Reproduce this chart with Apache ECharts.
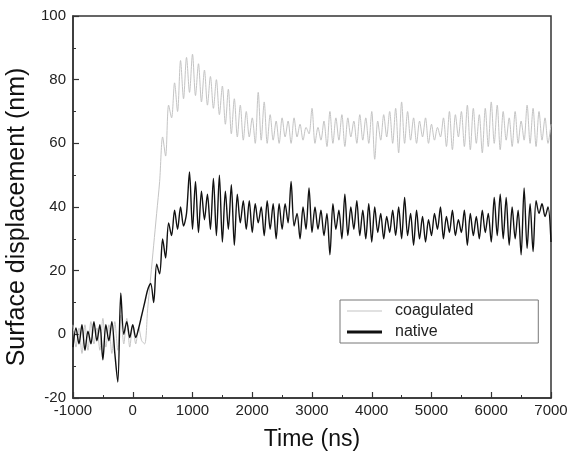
<!DOCTYPE html>
<html>
<head>
<meta charset="utf-8">
<script src="https://cdn.jsdelivr.net/npm/echarts@6/dist/echarts.min.js"></script>
<style>
html,body{margin:0;padding:0;background:#fff;}
#chart{width:569px;height:459px;}
</style>
</head>
<body>
<div id="chart"></div>
<script>
var times = [
 -1000,-950,-900,-850,-800,-750,-700,-650,-600,-550,
 -500,-450,-400,-350,-300,-250,-200,-150,-100,-50,
 0,50,100,150,200,250,300,350,400,450,
 500,550,600,650,700,750,800,850,900,950,
 1000,1050,1100,1150,1200,1250,1300,1350,1400,1450,
 1500,1550,1600,1650,1700,1750,1800,1850,1900,1950,
 2000,2050,2100,2150,2200,2250,2300,2350,2400,2450,
 2500,2550,2600,2650,2700,2750,2800,2850,2900,2950,
 3000,3050,3100,3150,3200,3250,3300,3350,3400,3450,
 3500,3550,3600,3650,3700,3750,3800,3850,3900,3950,
 4000,4050,4100,4150,4200,4250,4300,4350,4400,4450,
 4500,4550,4600,4650,4700,4750,4800,4850,4900,4950,
 5000,5050,5100,5150,5200,5250,5300,5350,5400,5450,
 5500,5550,5600,5650,5700,5750,5800,5850,5900,5950,
 6000,6050,6100,6150,6200,6250,6300,6350,6400,6450,
 6500,6550,6600,6650,6700,6750,6800,6850,6900,6950,
 7000
];
var coagulated = [
 3,-4,2,-6,3,-5,4,-3,2,-5,
 5,-4,3,-6,4,-5,6,-3,5,-4,
 3,-3,2,-2,-3,8,18,28,38,48,
 62,56,72,68,79,70,86,74,87,76,
 88,75,85,73,83,72,81,71,80,69,
 78,66,77,63,74,62,72,61,70,62,
 68,60,76,61,73,60,69,61,67,60,
 68,62,67,60,68,62,66,61,65,63,
 71,60,65,61,67,59,70,60,68,61,
 69,59,68,62,67,60,69,61,68,60,
 70,55,67,61,69,62,70,60,71,57,
 73,60,70,61,68,60,67,62,68,60,
 66,61,65,62,68,59,70,58,69,62,
 70,59,72,58,71,60,69,57,71,59,
 73,60,72,58,70,61,68,59,70,60,
 67,61,72,60,71,59,70,61,68,60,
 66
];
var native = [
 -4,2,-3,3,-5,1,-3,4,-2,3,
 -8,3,-2,4,-6,-15,13,0,4,-1,
 3,-1,2,6,10,14,16,10,22,19,
 30,24,35,31,39,33,40,34,38,51,
 33,48,32,45,36,44,33,49,31,50,
 29,45,33,47,28,44,35,42,33,42,
 32,41,35,40,31,42,33,41,30,41,
 33,41,35,48,34,38,30,40,33,46,
 32,40,33,39,31,38,25,41,33,39,
 30,44,31,40,33,42,31,39,30,41,
 29,40,32,38,30,37,32,39,31,40,
 30,43,31,38,28,39,30,37,29,36,
 31,38,33,40,30,37,32,39,31,36,
 32,39,28,38,31,37,30,39,32,38,
 29,43,31,44,30,43,28,40,30,39,
 25,46,27,41,26,42,38,41,37,40,
 29
];
var seriesNames = ['coagulated', 'native'];
var xTitle = 'Time (ns)';
var yTitle = 'Surface displacement (nm)';

function pairs(ys){ return times.map(function(t,i){ return [t, ys[i]]; }); }

var chart = echarts.init(document.getElementById('chart'), null, {renderer:'canvas'});
var font = '"Liberation Sans", Arial, sans-serif';
var coagColor = '#c4c4c4', nativeColor = '#111';
chart.setOption({
  animation: false,
  backgroundColor: '#fff',
  grid: {left: 73, right: 18, top: 16, bottom: 61, outerBoundsMode: 'none', containLabel: false,
         show: true, borderColor: '#333', borderWidth: 1.5, backgroundColor: 'transparent'},
  legend: {
    data: [
      {name: seriesNames[0], icon: 'path://M0,0H35V1H0Z', itemStyle: {color: coagColor, borderWidth: 0}},
      {name: seriesNames[1], icon: 'path://M0,0H35V3H0Z', itemStyle: {color: nativeColor, borderWidth: 0}}
    ],
    orient: 'vertical', left: 340, top: 300,
    padding: [3, 65, 3, 7], itemGap: 5, itemWidth: 35, itemHeight: 20,
    borderColor: '#777', borderWidth: 1, backgroundColor: '#fff',
    textStyle: {fontFamily: font, fontSize: 16, color: '#222', padding: [0,0,0,8]}
  },
  xAxis: {
    type: 'value', min: -1000, max: 7000, interval: 1000,
    name: xTitle, nameLocation: 'middle', nameGap: 30,
    nameTextStyle: {fontFamily: font, fontSize: 23, color: '#111'},
    axisLine: {show: true, onZero: false, lineStyle: {color: '#333', width: 1.5}},
    axisTick: {show: true, inside: true, length: 6, lineStyle: {color: '#333', width: 1.2}},
    minorTick: {show: true, splitNumber: 2, length: 3, lineStyle: {color: '#333', width: 1}},
    axisLabel: {fontFamily: font, fontSize: 15, color: '#222', margin: 5, formatter: function(v){ return String(v); }},
    splitLine: {show: false}
  },
  yAxis: {
    type: 'value', min: -20, max: 100, interval: 20,
    name: yTitle, nameLocation: 'middle', nameGap: 39,
    nameTextStyle: {fontFamily: font, fontSize: 25, color: '#111', padding: [0, 20, 0, 0]},
    axisLine: {show: true, onZero: false, lineStyle: {color: '#333', width: 1.5}},
    axisTick: {show: true, inside: true, length: 6, lineStyle: {color: '#333', width: 1.2}},
    minorTick: {show: true, splitNumber: 2, length: 3, lineStyle: {color: '#333', width: 1}},
    axisLabel: {fontFamily: font, fontSize: 15, color: '#222', margin: 7, formatter: function(v){ return String(v); }},
    splitLine: {show: false}
  },
  series: [
    {name: seriesNames[0], type: 'line', data: pairs(coagulated), showSymbol: false, symbol: 'none', smooth: 0.3,
     lineStyle: {color: coagColor, width: 1}, itemStyle: {color: coagColor}, z: 2},
    {name: seriesNames[1], type: 'line', data: pairs(native), showSymbol: false, symbol: 'none', smooth: 0.3,
     lineStyle: {color: nativeColor, width: 1.4}, itemStyle: {color: nativeColor}, z: 3}
  ]
});
</script>
</body>
</html>
